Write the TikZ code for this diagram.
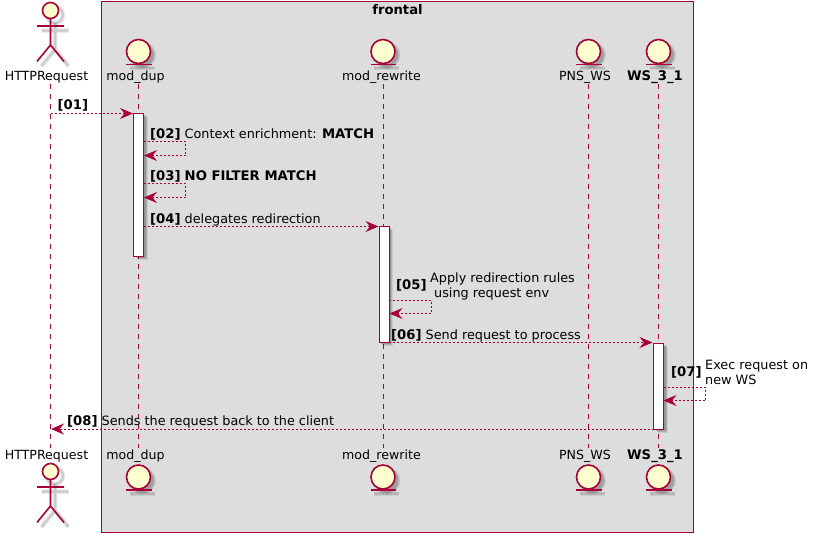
\documentclass[tikz,border=0pt]{standalone}
\usepackage{fontspec}
\setmainfont{DejaVu Sans}
\usetikzlibrary{arrows.meta}
\definecolor{pu}{HTML}{A80036}
\definecolor{cr}{HTML}{FEFECE}
\definecolor{bx}{HTML}{DDDDDD}
\newcommand{\bb}[1]{{\fontsize{13.2}{15}\selectfont\bfseries #1}}
\tikzset{
  x=1pt,y=-1pt,
  lab/.style={inner sep=0pt,font=\fontsize{12.8}{15}\selectfont,text=black},
  part/.style={lab,anchor=base,font=\fontsize{12.6}{15}\selectfont},
  msg/.style={lab,anchor=base west},
  life/.style={draw=pu,line width=1pt,dash pattern=on 5pt off 5pt},
  arr/.style={draw=pu,line width=1pt,dash pattern=on 2pt off 2pt,-{Stealth[length=13pt,width=11pt,inset=4.5pt,fill=pu]}},
  activ/.style={draw=pu,fill=white,line width=1pt,inner sep=0pt,minimum width=10pt,anchor=north},
  line/.style={draw=pu,line width=1.6pt},
}
\newcommand{\actorfig}[2]{% x, y of head centre
  \foreach \w/\o in {5/.05,3.5/.07,2/.09}{
    \begin{scope}[shift={(#1+4.5,#2+4.5)},draw=black,line width=\w pt,draw opacity=\o]
      \draw (0,0) circle (8);
      \draw (0,8) -- (0,34.5) (-13.5,15.5) -- (13.5,15.5) (-13.5,51) -- (0,34.5) -- (13.5,51);
    \end{scope}}
  \begin{scope}[shift={(#1,#2)}]
    \draw[line,fill=cr] (0,0) circle (8);
    \draw[line] (0,8) -- (0,34.5) (-13.5,15.5) -- (13.5,15.5) (-13.5,51) -- (0,34.5) -- (13.5,51);
  \end{scope}
}
\newcommand{\entityfig}[2]{% x, y of circle centre
  \foreach \r/\o in {14/.07,13/.10,12/.14}{
    \fill[black,fill opacity=\o] (#1+3.5,#2+3.5) circle (\r);}
  \foreach \w/\o in {4/.07,2.5/.10}{
    \draw[black,draw opacity=\o,line width=\w pt] (#1-9,#2+16.5) -- (#1+16,#2+16.5);}
  \draw[line,fill=cr] (#1,#2) circle (12);
  \draw[line] (#1-12.5,#2+13) -- (#1+13,#2+13);
}
\newcommand{\activfig}[3]{% x, top, bottom
  \foreach \d/\o in {4/.08,3/.12,2/.16}{
    \fill[black,fill opacity=\o] (#1-5+\d,#2+\d) rectangle (#1+5+\d,#3+\d);}
}
\begin{document}
\begin{tikzpicture}
\useasboundingbox (0,0) rectangle (819,533);
\fill[white] (0,0) rectangle (819,533);
% group box
\node[draw=pu,fill=bx,line width=1pt,inner sep=0pt,minimum width=592pt,minimum height=531pt,anchor=north west] (box) at (101,1) {};
\node[lab,anchor=base] (title) at (397.5,14) {\bb{frontal}};

% participant labels, top and bottom
\node[part] (hrT) at (46.5,80.5) {HTTPRequest};
\node[part] (dupT) at (135.5,80.5) {mod\_dup};
\node[part] (rewT) at (381.5,80.5) {mod\_rewrite};
\node[part] (pnsT) at (585,80.5) {PNS\_WS};
\node[part] (wsT) at (655,80.5) {\bb{WS\_3\_1}};
\node[part] (hrB) at (46.5,459.5) {HTTPRequest};
\node[part] (dupB) at (135.5,459.5) {mod\_dup};
\node[part] (rewB) at (381.5,459.5) {mod\_rewrite};
\node[part] (pnsB) at (585,459.5) {PNS\_WS};
\node[part] (wsB) at (655,459.5) {\bb{WS\_3\_1}};

% lifeline ends
\foreach \n/\x in {hr/50.5,dup/138.5,rew/383,pns/588.5,ws/658.5}{
  \coordinate (\n1) at (\x,84);
  \coordinate (\n2) at (\x,448);
  \draw[life] (\n1) -- (\n2);
}

% figures
\actorfig{50.5}{10.5}
\actorfig{50.5}{471.5}
\foreach \x in {138.5,383,588.5,658.5}{
  \entityfig{\x}{51.5}
  \entityfig{\x}{477}
}

% activations
\activfig{138.5}{113}{256}
\activfig{384.3}{226}{342}
\activfig{658.5}{342.5}{429}
\node[activ,minimum height=143pt] (a1) at (138.5,113) {};
\node[activ,minimum height=116pt] (a2) at (384.3,226) {};
\node[activ,minimum height=86.5pt] (a3) at (658.5,342.5) {};

% message end points
\coordinate (m1s) at (50.5,113.5);
\coordinate (m1e) at (133,113.5);
\coordinate (m2s) at (143.5,141.5);
\coordinate (m2a) at (185.5,141.5);
\coordinate (m2b) at (185.5,155.5);
\coordinate (m2e) at (144,155.5);
\coordinate (m3s) at (143.5,183.5);
\coordinate (m3a) at (185.5,183.5);
\coordinate (m3b) at (185.5,197.5);
\coordinate (m3e) at (144,197.5);
\coordinate (m4s) at (143.5,226.5);
\coordinate (m4e) at (378.5,226.5);
\coordinate (m5s) at (389.3,300.5);
\coordinate (m5a) at (431.5,300.5);
\coordinate (m5b) at (431.5,313.5);
\coordinate (m5e) at (389.5,313.5);
\coordinate (m6s) at (389.3,342.5);
\coordinate (m6e) at (652.5,342.5);
\coordinate (m7s) at (663.5,387.5);
\coordinate (m7a) at (705.5,387.5);
\coordinate (m7b) at (705.5,400.5);
\coordinate (m7e) at (663.5,400.5);
\coordinate (m8s) at (653.5,429);
\coordinate (m8e) at (51,429);

\draw[arr] (m1s) -- (m1e);
\draw[arr] (m2s) -- (m2a) -- (m2b) -- (m2e);
\draw[arr] (m3s) -- (m3a) -- (m3b) -- (m3e);
\draw[arr] (m4s) -- (m4e);
\draw[arr] (m5s) -- (m5a) -- (m5b) -- (m5e);
\draw[arr] (m6s) -- (m6e);
\draw[arr] (m7s) -- (m7a) -- (m7b) -- (m7e);
\draw[arr] (m8s) -- (m8e);

% message labels
\node[msg] (l1) at (57.5,109) {\bb{[01]}};
\node[msg] (l2) at (150,138) {\bb{[02]} Context enrichment: \bb{MATCH}};
\node[msg] (l3) at (150,180) {\bb{[03]} \bb{NO FILTER MATCH}};
\node[msg] (l4) at (150,223) {\bb{[04]} delegates redirection};
\node[msg] (l5) at (396,289) {\bb{[05]}};
\node[msg] (l5a) at (430,282) {Apply redirection rules};
\node[msg] (l5b) at (434,297) {using request env};
\node[msg] (l6) at (391,339) {\bb{[06]} Send request to process};
\node[msg] (l7) at (671,376) {\bb{[07]}};
\node[msg] (l7a) at (705,369) {Exec request on};
\node[msg] (l7b) at (705,384) {new WS};
\node[msg] (l8) at (67,425) {\bb{[08]} Sends the request back to the client};
\end{tikzpicture}
\end{document}
